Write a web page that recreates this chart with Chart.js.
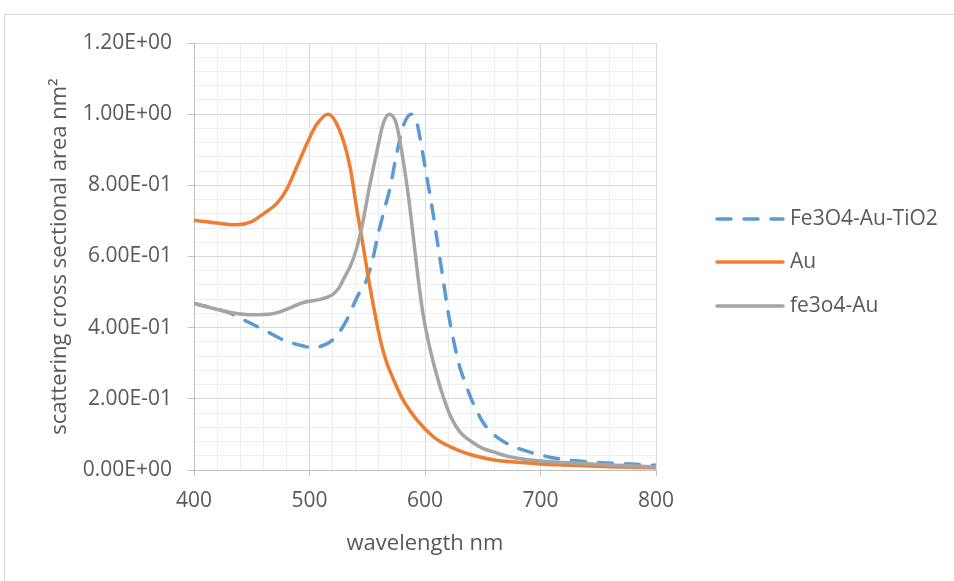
<!DOCTYPE html>
<html>
<head>
<meta charset="utf-8">
<script src="https://cdn.jsdelivr.net/npm/chart.js@4.4.1/dist/chart.umd.min.js"></script>
<style>
  html, body { margin: 0; padding: 0; background: #fff; overflow: hidden; }
  #frame { position: absolute; left: 4px; top: 14px; width: 1000px; height: 700px; border: 1px solid #d9d9d9; }
  #spectra { position: absolute; left: 0; top: 0; }
</style>
</head>
<body>
<div id="frame"></div>
<canvas id="spectra" width="954" height="581"></canvas>
<script>
// series names, as in the legend
const seriesNames = ['Fe3O4-Au-TiO2', 'Au', 'fe3o4-Au'];

// Fe3O4-Au-TiO2 (blue dashed)
const tiWavelength = [400, 430, 448, 465, 479, 494, 502, 514, 522, 531, 543, 547, 554, 559, 564, 570, 575, 581, 588, 593, 597, 601.5, 606, 610, 615, 620, 625, 630, 636, 640, 645, 650, 656, 664, 675, 686, 708, 733, 758, 782, 800];
const tiValues = [0.468, 0.442, 0.414, 0.386, 0.363, 0.349, 0.344, 0.353, 0.372, 0.414, 0.497, 0.515, 0.582, 0.657, 0.722, 0.797, 0.881, 0.965, 1.0, 0.975, 0.909, 0.825, 0.741, 0.657, 0.55, 0.445, 0.36, 0.29, 0.235, 0.2, 0.165, 0.135, 0.11, 0.088, 0.068, 0.055, 0.036, 0.025, 0.0196, 0.016, 0.013];

// Au (orange)
const auWavelength = [400, 420, 437, 450, 460, 472, 480, 489, 498, 506, 516, 526, 535, 541, 546, 551, 556, 561, 566, 572, 581, 593, 607, 613, 622, 630, 640, 660, 680, 700, 720, 760, 800];
const auValues = [0.702, 0.694, 0.689, 0.698, 0.72, 0.75, 0.787, 0.852, 0.919, 0.97, 1.0, 0.955, 0.853, 0.732, 0.638, 0.54, 0.45, 0.37, 0.31, 0.26, 0.197, 0.141, 0.094, 0.08, 0.065, 0.054, 0.043, 0.028, 0.0216, 0.017, 0.014, 0.009, 0.006];

// fe3o4-Au (grey)
const feWavelength = [400, 418, 433, 450, 468, 479, 494, 511, 520, 526, 530, 535, 541, 546, 552, 558, 564, 569, 575, 581, 586, 590, 594, 598, 602, 607, 613, 618, 622, 630, 640, 650, 660, 671, 680, 700, 720, 760, 800];
const feValues = [0.468, 0.453, 0.442, 0.436, 0.439, 0.45, 0.47, 0.481, 0.493, 0.514, 0.54, 0.57, 0.625, 0.694, 0.797, 0.89, 0.975, 1.0, 0.975, 0.872, 0.76, 0.652, 0.54, 0.445, 0.375, 0.305, 0.235, 0.185, 0.152, 0.108, 0.08, 0.061, 0.05, 0.039, 0.033, 0.025, 0.021, 0.014, 0.0085];

function toPoints(xs, ys) {
  return xs.map((x, i) => ({ x: x, y: ys[i] }));
}

function sci(v) {
  if (Math.abs(v) < 1e-9) return '0.00E+00';
  const parts = v.toExponential(2).split('e');
  const n = parseInt(parts[1], 10);
  return parts[0] + 'E' + (n < 0 ? '-' : '+') + String(Math.abs(n)).padStart(2, '0');
}

function isMajorY(v) {
  const k = v / 0.2;
  return Math.abs(k - Math.round(k)) < 1e-6;
}

const textColor = '#595959';
const fontFamily = '"Open Sans", sans-serif';

// legend drawn at the right, like the Excel one
const sideLegend = {
  id: 'sideLegend',
  afterDraw(chart) {
    const ctx = chart.ctx;
    const rows = [219, 262, 306];
    chart.data.datasets.forEach((ds, i) => {
      const y = rows[i];
      ctx.save();
      ctx.strokeStyle = ds.borderColor;
      ctx.lineWidth = ds.borderWidth;
      ctx.lineCap = ds.borderCapStyle || 'butt';
      ctx.setLineDash(ds.borderDash || []);
      ctx.beginPath();
      ctx.moveTo(717, y);
      ctx.lineTo(783, y);
      ctx.stroke();
      ctx.setLineDash([]);
      ctx.fillStyle = textColor;
      ctx.font = '21px ' + fontFamily;
      ctx.textBaseline = 'middle';
      ctx.fillText(ds.label, 790, y);
      ctx.restore();
    });
  }
};

const spectraData = {
  datasets: [{
    label: seriesNames[0],
    data: toPoints(tiWavelength, tiValues),
    borderColor: '#5B9BD5',
    borderWidth: 3.5,
    borderDash: [14, 13],
    borderCapStyle: 'round',
    order: 2
  }, {
    label: seriesNames[1],
    data: toPoints(auWavelength, auValues),
    borderColor: '#ED7D31',
    borderWidth: 3.5,
    borderCapStyle: 'round',
    order: 1
  }, {
    label: seriesNames[2],
    data: toPoints(feWavelength, feValues),
    borderColor: '#A5A5A5',
    borderWidth: 3.5,
    borderCapStyle: 'round',
    order: 0
  }]
};

const spectraConfig = {
  type: 'line',
  data: spectraData,
  plugins: [sideLegend],
  options: {
    responsive: false,
    animation: false,
    devicePixelRatio: 1,
    elements: {
      point: { radius: 0 },
      line: { cubicInterpolationMode: 'monotone', fill: false }
    },
    layout: {
      padding: { left: 47, right: 298, top: 43, bottom: 21 }
    },
    plugins: {
      legend: { display: false },
      tooltip: { enabled: false }
    },
    scales: {
      x: {
        type: 'linear',
        min: 400,
        max: 800,
        afterFit: function(scale) { scale.height = 90; },
        ticks: {
          stepSize: 20,
          autoSkip: false,
          maxRotation: 0,
          padding: 12,
          color: textColor,
          font: { family: fontFamily, size: 21 },
          callback: function(v) { return v % 100 === 0 ? String(v) : ''; }
        },
        grid: {
          color: function(c) { return c.tick && c.tick.value % 100 === 0 ? '#d9d9d9' : '#eeeeee'; },
          tickColor: function(c) { return c.tick && c.tick.value % 100 === 0 ? '#bfbfbf' : 'rgba(0,0,0,0)'; },
          tickLength: 6
        },
        border: { color: '#bfbfbf', width: 1 },
        title: {
          display: true,
          text: 'wavelength nm',
          color: textColor,
          font: { family: fontFamily, size: 22 },
          padding: { top: 0, bottom: 3 }
        }
      },
      y: {
        min: 0,
        max: 1.2,
        afterFit: function(scale) { scale.width = 147; },
        ticks: {
          stepSize: 0.04,
          autoSkip: false,
          padding: 16,
          color: textColor,
          font: { family: fontFamily, size: 21 },
          callback: function(v) { return isMajorY(v) ? sci(v) : ''; }
        },
        grid: {
          color: function(c) { return c.tick && isMajorY(c.tick.value) ? '#d9d9d9' : '#eeeeee'; },
          tickColor: function(c) { return c.tick && isMajorY(c.tick.value) ? '#bfbfbf' : 'rgba(0,0,0,0)'; },
          tickLength: 6
        },
        border: { color: '#bfbfbf', width: 1 },
        title: {
          display: true,
          text: 'scattering cross sectional area nm\u00b2',
          color: textColor,
          font: { family: fontFamily, size: 22 },
          padding: { top: 0, bottom: 0 }
        }
      }
    }
  }
};

const spectraChart = new Chart(
  document.getElementById('spectra'),
  spectraConfig
);
</script>
</body>
</html>
